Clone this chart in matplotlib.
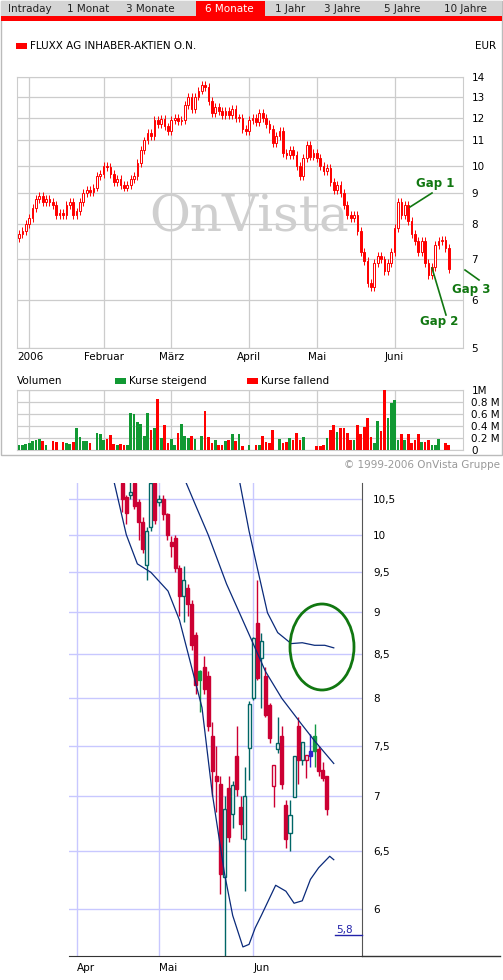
import numpy as np
import matplotlib
matplotlib.use("Agg")
import matplotlib.pyplot as plt
from matplotlib.patches import Rectangle, Ellipse
from matplotlib.lines import Line2D

W, H = 503, 980
# ---------------- data: top chart (6 Monate), trading days 28.12.2005 - 23.06.2006
closes = [7.7, 7.8, 8.0,
          8.2, 8.5, 8.8, 8.9, 8.7, 8.8, 8.7, 8.6, 8.3, 8.35, 8.3, 8.6, 8.7, 8.3, 8.4, 8.7, 9.0, 9.1, 9.05, 9.2, 9.6, 9.7,
          10.0, 9.95, 9.7, 9.4, 9.5, 9.3, 9.2, 9.3, 9.5, 9.6, 10.1, 10.6, 11.0, 11.3, 11.2, 11.9, 11.7, 11.95, 11.6, 11.4,
          11.9, 12.0, 11.85, 11.9, 12.6, 13.0, 12.4, 13.0, 13.3, 13.6, 13.5, 12.8, 12.2, 12.5, 12.3, 12.1, 12.3, 12.1, 12.4, 12.0, 12.0, 11.5, 11.4,
          11.9, 12.0, 11.8, 12.2, 12.0, 11.7, 11.5, 10.9, 11.2, 11.4, 10.5, 10.4, 10.6, 10.4, 10.0, 9.6, 10.3, 10.8, 10.35, 10.5,
          10.3, 10.0, 9.8, 9.9, 9.4, 9.1, 9.3, 9.0, 8.6, 8.3, 8.2, 8.3, 7.8, 7.2, 6.95, 6.4, 6.3, 6.9, 7.1, 7.0, 6.7, 6.9, 7.2,
          7.9, 8.7, 8.3, 8.6, 8.1, 7.7, 7.5, 7.2, 7.5, 6.9, 6.6, 6.8, 7.4, 7.5, 7.55, 7.3, 6.75]
volumes = [0.08, 0.08, 0.1,
           0.12, 0.15, 0.17, 0.19, 0.15, 0.08, 0.0, 0.15, 0.14, 0.0, 0.13, 0.11, 0.1, 0.14, 0.36, 0.22, 0.15, 0.15, 0.11, 0.0, 0.29, 0.27,
           0.16, 0.18, 0.25, 0.1, 0.08, 0.1, 0.08, 0.08, 0.62, 0.6, 0.47, 0.44, 0.24, 0.62, 0.33, 0.36, 0.85, 0.2, 0.42, 0.11,
           0.18, 0.09, 0.29, 0.44, 0.24, 0.2, 0.24, 0.19, 0.0, 0.24, 0.65, 0.22, 0.11, 0.16, 0.09, 0.09, 0.15, 0.16, 0.26, 0.15, 0.27, 0.07, 0.0,
           0.09, 0.0, 0.09, 0.08, 0.24, 0.14, 0.11, 0.34, 0.0, 0.19, 0.12, 0.13, 0.2, 0.17, 0.29, 0.17, 0.22, 0.0, 0.0, 0.0,
           0.07, 0.07, 0.08, 0.2, 0.33, 0.42, 0.3, 0.37, 0.37, 0.29, 0.17, 0.17, 0.42, 0.27, 0.38, 0.54, 0.22, 0.11, 0.48, 0.31, 1.0, 0.54, 0.78,
           0.84, 0.16, 0.27, 0.17, 0.27, 0.11, 0.17, 0.26, 0.13, 0.14, 0.17, 0.09, 0.09, 0.19, 0.0, 0.12, 0.08]
first_open = 7.6
month_labels = ["2006", "Februar", "März", "April", "Mai", "Juni"]
month_idx = [3, 25, 45, 68, 88, 111]
price_ticks = [5, 6, 7, 8, 9, 10, 11, 12, 13, 14]
vol_ticks = [0, 0.2, 0.4, 0.6, 0.8, 1.0]
vol_tick_labels = ["0", "0.2 M", "0.4 M", "0.6 M", "0.8 M", "1M"]
tabs = ["Intraday", "1 Monat", "3 Monate", "6 Monate", "1 Jahr", "3 Jahre", "5 Jahre", "10 Jahre"]

# ---------------- data: bottom chart (zoom Apr-Jun), day index, open, close, high, low
b_idx = list(range(79, 130))
b_open = [10.73, 10.52, 10.55, 10.73, 10.45, 10.18, 9.6, 10.1, 10.73, 10.45, 10.5, 10.28, 9.9, 9.95, 9.55, 9.2, 9.3, 9.1,
          8.72, 8.2, 8.35, 8.25, 7.6, 7.2, 7.12, 6.27, 7.08, 6.83, 7.4, 6.9, 6.6, 7.48, 8.0, 8.87, 8.45, 8.25, 7.93, 7.1,
          7.47, 7.6, 6.92, 6.66, 6.99, 7.7, 7.35, 7.35, 7.45, 7.45, 7.47, 7.26, 7.2]
b_close = [10.5, 10.3, 10.6, 10.4, 10.18, 9.8, 10.05, 10.73, 10.2, 10.5, 10.28, 10.0, 9.85, 9.55, 9.2, 9.4, 9.1, 8.6,
           8.15, 8.3, 8.1, 7.7, 7.25, 7.15, 6.3, 6.88, 6.62, 7.11, 7.07, 6.74, 7.0, 7.94, 8.68, 8.23, 8.65, 7.82, 7.58, 7.3,
           7.53, 7.12, 6.6, 6.82, 7.4, 7.35, 7.54, 7.41, 7.4, 7.6, 7.25, 7.18, 6.88]
b_high = [10.8, 10.55, 10.75, 10.78, 10.5, 10.25, 10.1, 10.8, 10.78, 10.55, 10.55, 10.3, 9.98, 10.0, 9.6, 9.58, 9.35, 9.15,
          8.76, 8.32, 8.47, 8.3, 7.75, 7.5, 7.2, 7.0, 7.2, 7.15, 7.7, 7.0, 7.28, 7.97, 8.7, 9.4, 8.75, 8.35, 7.95, 7.3,
          7.8, 7.7, 6.96, 6.96, 7.4, 7.8, 7.54, 7.41, 7.62, 7.72, 7.5, 7.33, 7.2]
b_low = [10.32, 10.15, 10.5, 10.35, 9.93, 9.75, 9.4, 10.05, 10.15, 10.4, 10.2, 9.93, 9.7, 9.5, 8.95, 8.88, 8.95, 8.55,
         8.05, 7.85, 8.05, 7.65, 7.0, 6.85, 6.13, 5.55, 6.58, 6.7, 7.0, 6.6, 6.15, 7.16, 7.98, 8.2, 7.9, 7.8, 7.53, 6.9,
         7.43, 7.07, 6.52, 6.5, 6.99, 7.12, 7.3, 7.18, 7.28, 7.28, 7.2, 7.15, 6.82]
b_special = {98: "#119944", 116: "redhollow", 124: "redhollow", 125: "#3322cc", 126: "#119944"}
upper_day = [107.7, 110, 112, 114.5, 117, 120.3, 123, 126, 128.5, 130.7]
upper_val = [10.75, 10.05, 9.56, 8.99, 8.75, 8.62, 8.63, 8.6, 8.6, 8.57]
middle_day = [94.5, 97, 100, 104.5, 108, 111, 114, 118, 122.7, 126, 130.7]
middle_val = [10.75, 10.4, 10.0, 9.35, 8.95, 8.62, 8.3, 8.0, 7.73, 7.55, 7.32]
lower_day = [77, 80, 82.7, 86, 90.2, 93, 96, 98.5, 101, 104, 106, 108.5, 110, 111.5, 113, 116.5, 119, 121, 123, 125, 127, 129.7, 130.7]
lower_val = [10.75, 10.0, 9.61, 9.5, 9.26, 8.9, 8.34, 7.9, 7.03, 6.3, 5.95, 5.70, 5.72, 5.85, 5.95, 6.2, 6.15, 6.05, 6.07, 6.25, 6.35, 6.45, 6.42]
b_ticks = [6, 6.5, 7, 7.5, 8, 8.5, 9, 9.5, 10, 10.5]
b_month_labels = ["Apr", "Mai", "Jun"]
b_month_idx = [68, 88, 111]

# ---------------- helpers
fig = plt.figure(figsize=(W / 100, H / 100), dpi=100)
fig.patch.set_facecolor("white")

def rect(l, t, r, b):
    return [l / W, 1 - b / H, (r - l) / W, (b - t) / H]

def ftext(x, y, s, **kw):
    fig.text(x / W, 1 - y / H, s, **kw)

def fline(xs, ys, **kw):
    fig.add_artist(Line2D([x / W for x in xs], [1 - y / H for y in ys], **kw))

def frect(l, t, r, b, z=1, **kw):
    p = Rectangle((l / W, 1 - b / H), (r - l) / W, (b - t) / H, zorder=z, **kw)
    fig.add_artist(p)

FS = 7.5
# ---------------- top frame and tabs
frect(1, 1, 502, 455, z=-5, facecolor="white", edgecolor="#bbbbbb", lw=1)
frect(1, 1, 502, 16, facecolor="#d4d4d4", edgecolor="none")
frect(1, 16, 502, 21, facecolor="#ff0000", edgecolor="none")
tab_x = [30, 88, 150, 229, 290, 342, 402, 465]
frect(196, 1, 265, 17, facecolor="#ff0000", edgecolor="none")
for tx, t in zip(tab_x, tabs):
    ftext(tx, 9, t, ha="center", va="center", fontsize=FS,
          color="white" if t == "6 Monate" else "#222222")
frect(16, 43, 27, 49, facecolor="#ff0000", edgecolor="none")
ftext(30, 46, "FLUXX AG INHABER-AKTIEN O.N.", fontsize=FS, va="center")
ftext(496, 46, "EUR", fontsize=FS, va="center", ha="right")

# ---------------- top price axes
ax = fig.add_axes(rect(17, 77, 463, 348))
ax.set_yscale("log")
ax.set_ylim(5, 14)
ax.set_xlim(-0.6, 131.2)
n = len(closes)
opens = [first_open] + closes[:-1]
x = np.arange(n)
red = "#ff0000"
for i in range(n):
    o, c = opens[i], closes[i]
    lo, hi = min(o, c), max(o, c)
    ax.vlines(i, lo * 0.985, hi * 1.015, color=red, lw=0.7, zorder=2)
    if c >= o:
        ax.bar(i, hi - lo if hi > lo else 0.02, bottom=lo, width=0.5, facecolor="white", edgecolor=red, lw=0.7, zorder=3)
    else:
        ax.bar(i, hi - lo, bottom=lo, width=0.5, facecolor=red, edgecolor=red, lw=0.7, zorder=3)
ax.set_yticks(price_ticks)
ax.yaxis.set_minor_locator(matplotlib.ticker.NullLocator())
ax.set_yticklabels([str(t) for t in price_ticks], fontsize=FS)
ax.yaxis.tick_right()
ax.set_xticks(month_idx)
ax.set_xticklabels([])
ax.tick_params(length=0, pad=6)
ax.grid(True, color="#cccccc", lw=0.9)
ax.set_axisbelow(True)
for s in ax.spines.values():
    s.set_color("#cccccc")
ax.text(0.52, 0.48, "OnVista", transform=ax.transAxes, ha="center", va="center",
        fontsize=36, family="DejaVu Serif", color="#cfcfcf", zorder=1)
for lbl, mi in zip(month_labels, month_idx):
    ftext(17 if lbl == "2006" else 17 + (mi + 0.6) * (446 / 131.8), 357, lbl, fontsize=FS,
          ha="left" if lbl == "2006" else "center", va="center")
# gap annotations
g = "#117711"
ftext(416, 183, "Gap 1", fontsize=8.5, color=g, weight="bold", va="center")
fline([410, 432], [207, 193], color=g, lw=1.2)
ftext(420, 321, "Gap 2", fontsize=8.5, color=g, weight="bold", va="center")
fline([432, 446], [268, 315], color=g, lw=1.2)
ftext(452, 289, "Gap 3", fontsize=8.5, color=g, weight="bold", va="center")
fline([465, 479], [270, 280], color=g, lw=1.2)

# ---------------- volume axes
ftext(17, 381, "Volumen", fontsize=FS, va="center")
frect(115, 378, 126, 384, facecolor="#119933", edgecolor="none")
ftext(129, 381, "Kurse steigend", fontsize=FS, va="center")
frect(247, 378, 258, 384, facecolor="#ff0000", edgecolor="none")
ftext(261, 381, "Kurse fallend", fontsize=FS, va="center")
axv = fig.add_axes(rect(17, 390, 463, 450))
vcol = ["#119933" if closes[i] >= opens[i] else "#ff0000" for i in range(n)]
axv.bar(x, volumes, width=0.8, color=vcol, zorder=3)
axv.set_ylim(0, 1.0)
axv.set_xlim(-0.6, 131.2)
axv.set_yticks(vol_ticks)
axv.set_yticklabels(vol_tick_labels, fontsize=FS)
axv.yaxis.tick_right()
axv.set_xticks(month_idx)
axv.set_xticklabels([])
axv.tick_params(length=0, pad=6)
axv.grid(True, color="#cccccc", lw=0.9)
axv.set_axisbelow(True)
for s in axv.spines.values():
    s.set_color("#cccccc")
ftext(500, 465, "© 1999-2006 OnVista Gruppe", fontsize=FS, color="#999999", ha="right", va="center")

# ---------------- bottom zoom chart
axb = fig.add_axes(rect(69, 483, 362, 956))
axb.set_yscale("log")
axb.set_ylim(5.63, 10.73)
axb.set_xlim(66.0, 137.6)
crim = "#cc0033"
teal = "#006666"
for i, o, c, h, l in zip(b_idx, b_open, b_close, b_high, b_low):
    sp = b_special.get(i)
    lo, hi = min(o, c), max(o, c)
    if sp == "redhollow":
        ec, fc = crim, "white"
    elif sp is not None:
        ec, fc = sp, sp
    elif c >= o:
        ec, fc = teal, "white"
    else:
        ec, fc = crim, crim
    axb.vlines(i, l, h, color=ec, lw=1.0, zorder=2)
    axb.bar(i, hi - lo, bottom=lo, width=0.75, facecolor=fc, edgecolor=ec, lw=1.0, zorder=3)
bl = "#0a2a7a"
axb.plot(upper_day, upper_val, color=bl, lw=0.9, zorder=4)
axb.plot(middle_day, middle_val, color=bl, lw=0.9, zorder=4)
axb.plot(lower_day, lower_val, color=bl, lw=0.9, zorder=4)
axb.set_yticks(b_ticks)
axb.yaxis.set_minor_locator(matplotlib.ticker.NullLocator())
axb.set_yticklabels([str(t).replace(".", ",") if t != int(t) else str(int(t)) for t in b_ticks], fontsize=FS)
axb.yaxis.tick_right()
axb.set_xticks(b_month_idx)
axb.set_xticklabels([])
axb.tick_params(length=0, pad=8)
axb.grid(True, color="#c8c8ff", lw=1)
axb.set_axisbelow(True)
for k in ["top", "left"]:
    axb.spines[k].set_visible(False)
axb.spines["right"].set_color("#555555")
axb.spines["bottom"].set_color("#333333")
fline([362, 500], [956, 956], color="#333333", lw=1)
for lbl, mi in zip(b_month_labels, b_month_idx):
    xp = 69 + (mi - 66.0) / (137.6 - 66.0) * 293
    ftext(xp, 968, lbl, fontsize=FS, ha="left", va="center")
ftext(336, 930, "5,8", fontsize=FS, color="#2222aa", ha="left", va="center")
fline([335, 362], [935, 935], color="#2222aa", lw=1)
fig.add_artist(Ellipse((322 / W, 1 - 647 / H), 64 / W, 86 / H, fill=False, edgecolor="#117711", lw=2))

fig.savefig("out.png", dpi=100)
